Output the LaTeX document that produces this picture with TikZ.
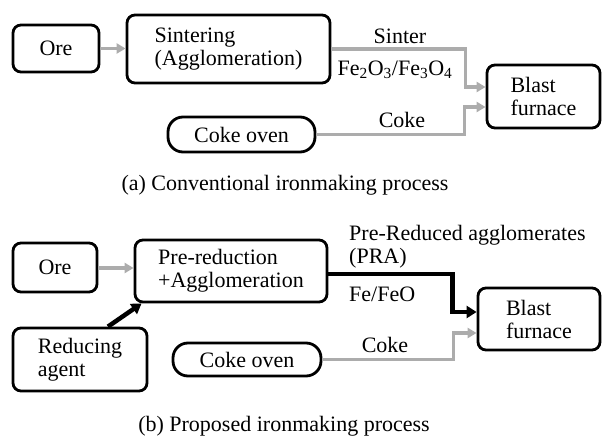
\documentclass[tikz,border=0pt]{standalone}
\usepackage{fontspec}
\setmainfont{Liberation Serif}
\usetikzlibrary{arrows.meta,calc}
\definecolor{arrowgray}{RGB}{172,172,172}
\tikzset{
  box/.style={draw=black, line width=2.8pt, rounded corners=8pt, inner sep=0pt, align=left,
    font=\fontsize{22}{23}\selectfont},
  pill/.style={box, rounded corners=15pt},
  lbl/.style={inner sep=0pt, font=\fontsize{22}{23}\selectfont, align=left},
  grayarrow/.style={draw=arrowgray, line width=3.5pt, -{Triangle[length=9pt,width=10pt]}},
  blackarrow/.style={draw=black, line width=4.5pt, -{Triangle[length=10pt,width=12pt]}},
}
\begin{document}
\begin{tikzpicture}[x=1pt,y=-1pt]
\useasboundingbox (0,0) rectangle (602,438);
% (a)
\node[box, minimum width=86pt, minimum height=47pt] (oreA) at (56,48.5) {Ore};
\node[box, minimum width=203pt, minimum height=68pt] (sinter) at (228.5,49) {Sintering\\(Agglomeration)};
\node[pill, minimum width=147pt, minimum height=35pt] (cokeA) at (241.5,134.5) {Coke oven};
\node[box, minimum width=113pt, minimum height=63pt] (bfA) at (543.5,96.5) {Blast\\furnace};
\draw[grayarrow] (oreA.east) -- (oreA.east -| sinter.west);
\draw[grayarrow] (sinter.east) -- ++(134,0) |- ([yshift=9.5pt]bfA.west);
\draw[grayarrow] (cokeA.east) -- ++(148,0) |- ([yshift=-10.5pt]bfA.west);
\node[lbl] (lsinter) at (400,36) {Sinter};
\node[lbl] (lfe) at (395,70) {Fe\textsubscript{2}O\textsubscript{3}/Fe\textsubscript{3}O\textsubscript{4}};
\node[lbl] (lcokeA) at (402,120) {Coke};
\node[lbl] (capA) at (285,185) {(a) Conventional ironmaking process};
% (b)
\node[box, minimum width=84pt, minimum height=49pt] (oreB) at (55,267.5) {Ore};
\node[box, minimum width=192pt, minimum height=62pt] (pre) at (231,271) {Pre-reduction\\+Agglomeration};
\node[box, minimum width=134pt, minimum height=63pt] (reduce) at (80,359.5) {Reducing\\agent};
\node[pill, minimum width=148pt, minimum height=33pt] (cokeB) at (247,359.5) {Coke oven};
\node[box, minimum width=122pt, minimum height=62pt] (bfB) at (539,319) {Blast\\furnace};
\draw[grayarrow] ([yshift=-0.5pt]oreB.east) -- ([yshift=-0.5pt]oreB.east -| pre.west);
\draw[blackarrow] ([xshift=28pt]reduce.north) -- ([xshift=8pt]pre.south west);
\draw[blackarrow] ([yshift=-3pt]pre.east) -- ++(124,0) |- ([yshift=7pt]bfB.west);
\draw[grayarrow] (cokeB.east) -- ++(131,0) |- ([yshift=-14pt]bfB.west);
\node[lbl, anchor=west] (lpra) at (349,246.5) {Pre-Reduced agglomerates\\(PRA)};
\node[lbl, anchor=west] (lfeo) at (349,294) {Fe/FeO};
\node[lbl] (lcokeB) at (385,345) {Coke};
\node[lbl] (capB) at (284,426) {(b) Proposed ironmaking process};
\end{tikzpicture}
\end{document}
